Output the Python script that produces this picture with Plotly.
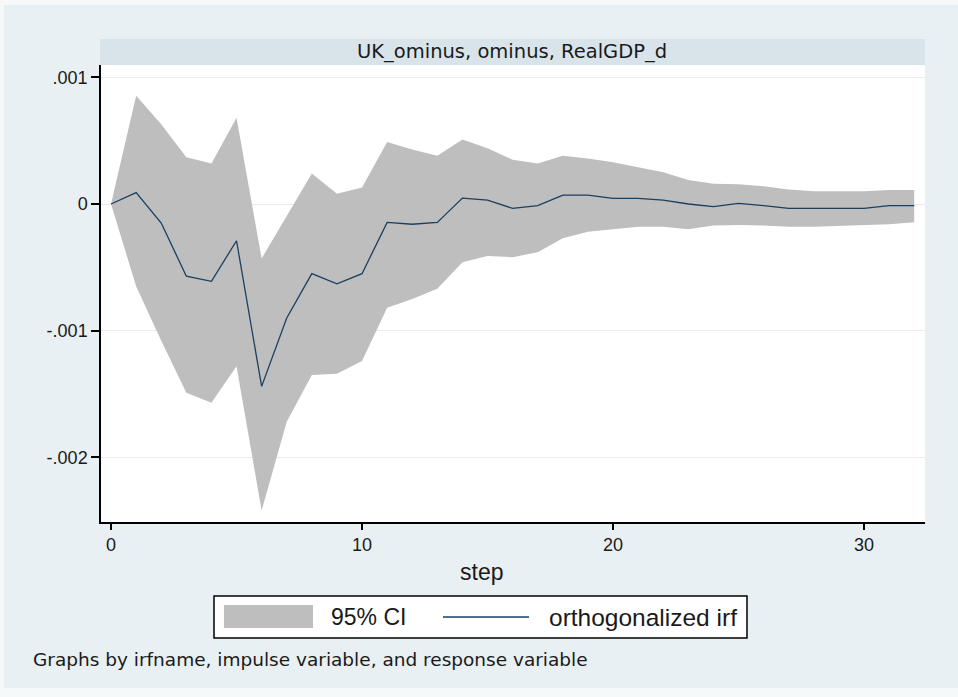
import plotly.graph_objects as go

# Orthogonalized impulse response with 95% confidence band
steps = list(range(33))
irf = [0.0, 0.00009, -0.00015, -0.00057, -0.00061, -0.00029, -0.00144, -0.00090,
       -0.00055, -0.00063, -0.00055, -0.000145, -0.00016, -0.000145, 0.000047,
       0.00003, -0.000034, -0.000013, 0.00007, 0.00007, 0.000045, 0.000045,
       0.00003, 0.0, -0.00002, 0.000005, -0.000013, -0.000034, -0.000034,
       -0.000034, -0.000034, -0.000013, -0.000013]
ci_upper = [0.0, 0.000855, 0.00063, 0.00037, 0.00032, 0.00068, -0.00043, -0.00010,
            0.00024, 0.00008, 0.00013, 0.00049, 0.00043, 0.00038, 0.00051,
            0.00044, 0.00035, 0.00032, 0.00038, 0.00036, 0.00033, 0.00029,
            0.00025, 0.00019, 0.00016, 0.000155, 0.00014, 0.000115, 0.0001,
            0.0001, 0.0001, 0.00011, 0.00011]
ci_lower = [0.0, -0.00065, -0.00108, -0.00149, -0.00157, -0.00128, -0.00242, -0.00172,
            -0.00135, -0.00134, -0.00124, -0.00082, -0.00075, -0.00067, -0.00046,
            -0.00041, -0.00042, -0.00038, -0.00027, -0.00022, -0.0002, -0.00018,
            -0.00018, -0.0002, -0.00017, -0.000165, -0.00017, -0.00018, -0.00018,
            -0.000175, -0.00017, -0.00016, -0.000145]

x_ticks = [0, 10, 20, 30]
y_ticks = [-0.002, -0.001, 0, 0.001]
y_tick_labels = ["-.002", "-.001", "0", ".001"]

panel_title = "UK_ominus, ominus, RealGDP_d"
x_title = "step"
band_name = "95% CI"
line_name = "orthogonalized irf"
note = "Graphs by irfname, impulse variable, and response variable"

W, H = 958, 697
L, R, T, B = 101, 33, 65, 175
PW, PH = W - L - R, H - T - B

BG = "#e9f0f3"
STRIP = "#d9e4ea"
BAND = "#bebebe"
LINE = "#1a3f5f"
TXT = "#1a1a1a"


def px(xp):
    return (xp - L) / PW


def py(yp):
    return (H - B - yp) / PH


fig = go.Figure()
fig.add_trace(go.Scatter(x=steps, y=ci_lower, mode="lines", line=dict(width=0),
                         hoverinfo="skip", showlegend=False))
fig.add_trace(go.Scatter(x=steps, y=ci_upper, mode="lines", line=dict(width=0),
                         fill="tonexty", fillcolor=BAND, name=band_name,
                         showlegend=False))
fig.add_trace(go.Scatter(x=steps, y=irf, mode="lines",
                         line=dict(color=LINE, width=1.3), name=line_name,
                         showlegend=False))

shapes = [
    # light outer frame
    dict(type="rect", xref="paper", yref="paper", x0=px(0), x1=px(W), y0=py(0), y1=py(5),
         fillcolor="#f6f9fa", line_width=0, layer="below"),
    dict(type="rect", xref="paper", yref="paper", x0=px(0), x1=px(4), y0=py(H), y1=py(0),
         fillcolor="#f6f9fa", line_width=0, layer="below"),
    dict(type="rect", xref="paper", yref="paper", x0=px(0), x1=px(W), y0=py(H), y1=py(688),
         fillcolor="#f6f9fa", line_width=0, layer="below"),
    # panel strip
    dict(type="rect", xref="paper", yref="paper", x0=px(100), x1=px(925), y0=py(65), y1=py(39),
         fillcolor=STRIP, line_width=0, layer="below"),
    # legend box and keys
    dict(type="rect", xref="paper", yref="paper", x0=px(214), x1=px(747), y0=py(638), y1=py(596),
         fillcolor="white", line=dict(color="black", width=1.5), layer="above"),
    dict(type="rect", xref="paper", yref="paper", x0=px(224), x1=px(313), y0=py(628), y1=py(605),
         fillcolor=BAND, line_width=0, layer="above"),
    dict(type="line", xref="paper", yref="paper", x0=px(443), x1=px(529), y0=py(617), y1=py(617),
         line=dict(color=LINE, width=1.5), layer="above"),
]

annotations = [
    dict(text=panel_title, xref="paper", yref="paper", x=px(512), y=py(52),
         xanchor="center", yanchor="middle", showarrow=False,
         font=dict(family="DejaVu Sans", size=19.5, color=TXT)),
    dict(text=x_title, xref="paper", yref="paper", x=px(481), y=py(572),
         xanchor="center", yanchor="middle", showarrow=False,
         font=dict(family="Liberation Sans", size=23, color=TXT)),
    dict(text=band_name, xref="paper", yref="paper", x=px(329), y=py(617),
         xanchor="left", yanchor="middle", showarrow=False,
         font=dict(family="Liberation Sans", size=23, color=TXT)),
    dict(text=line_name, xref="paper", yref="paper", x=px(547), y=py(617),
         xanchor="left", yanchor="middle", showarrow=False,
         font=dict(family="Liberation Sans", size=24.5, color=TXT)),
    dict(text=note, xref="paper", yref="paper", x=px(31), y=py(659),
         xanchor="left", yanchor="middle", showarrow=False,
         font=dict(family="DejaVu Sans", size=18.5, color=TXT)),
]

fig.update_layout(
    width=W, height=H,
    margin=dict(l=L, r=R, t=T, b=B, pad=0),
    paper_bgcolor=BG,
    plot_bgcolor="white",
    showlegend=False,
    shapes=shapes,
    annotations=annotations,
    xaxis=dict(range=[-0.4, 32.43], tickvals=x_ticks, ticks="outside", ticklen=6,
               tickwidth=1.5, tickcolor="black", showline=True, linecolor="black",
               linewidth=1.5, showgrid=False, zeroline=False,
               tickfont=dict(family="Liberation Sans", size=18, color=TXT)),
    yaxis=dict(range=[-0.0025105, 0.0010974], tickvals=y_ticks, ticktext=y_tick_labels,
               ticks="outside", ticklen=8, tickwidth=1.5, tickcolor="black",
               showline=True, linecolor="black", linewidth=1.5, showgrid=True,
               gridcolor="#ebebeb", gridwidth=1, zeroline=False,
               tickfont=dict(family="Liberation Sans", size=18, color=TXT)),
)

fig.write_html("out.html")
